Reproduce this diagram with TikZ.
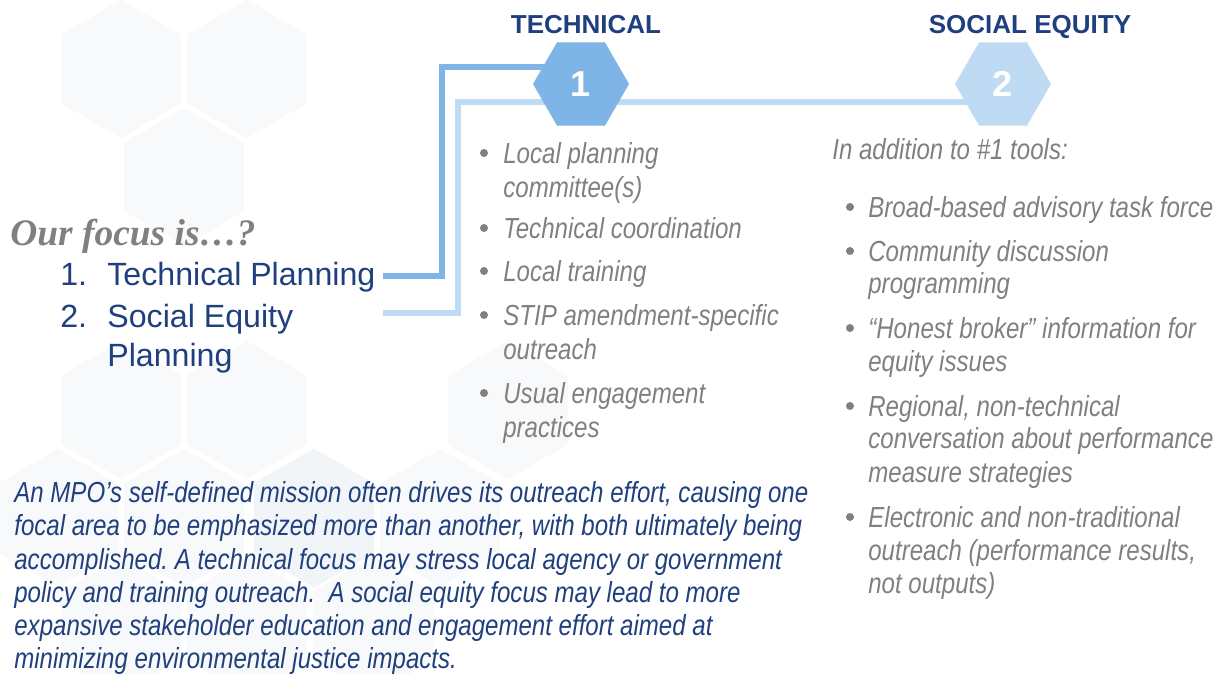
\documentclass[tikz,border=0pt]{standalone}
\usepackage{fontspec}
\setmainfont{Liberation Sans}
\newfontfamily\narrowfont[FakeStretch=0.83]{Liberation Sans}
\newfontfamily\timesfont{Liberation Serif}
\usetikzlibrary{shapes.geometric,backgrounds}
\definecolor{navy}{HTML}{1F3F7F}
\definecolor{txtgray}{HTML}{808080}
\definecolor{hexA}{HTML}{7EB4E6}
\definecolor{hexB}{HTML}{BFDAF3}
\definecolor{bgA}{HTML}{F8F9FB}
\definecolor{bgB}{HTML}{F1F5F8}
\tikzset{
  hexnum/.style={regular polygon, regular polygon sides=6, minimum size=1.92cm, inner sep=0pt,
    text=white, font=\fontsize{20.5}{24}\selectfont\bfseries},
  headtxt/.style={anchor=base, inner sep=0pt, text=navy, font=\fontsize{14.8}{17}\selectfont\bfseries},
  lst/.style={anchor=base west, inner sep=0pt, text=navy, font=\fontsize{18.3}{21}\selectfont},
  itm/.style={anchor=base west, inner sep=0pt, text=txtgray, font=\fontsize{16.5}{19}\narrowfont\itshape\frenchspacing},
  para/.style={itm, text=navy},
  bul/.style={circle, fill=txtgray, inner sep=0pt, minimum size=0.16cm},
  linkA/.style={hexA, line width=3.4pt},
  linkB/.style={hexB, line width=3.4pt},
}
\begin{document}
\begin{tikzpicture}[x=0.02cm, y=-0.02cm]
  \useasboundingbox (0,0) rectangle (1220,673);
  \def\bg#1#2#3{
    \fill[#3] (#1,#2) +(30:69) -- +(90:69) -- +(150:69) -- +(210:69) -- +(270:69) -- +(330:69) -- cycle;
  }

  \node[headtxt] (tech) at (586,33) {TECHNICAL};
  \node[headtxt] (soc) at (1030,33) {SOCIAL EQUITY};
  \node[hexnum, fill=hexA] (one) at (581,84) {1};
  \node[hexnum, fill=hexB] (two) at (1003,84) {2};

  \node[anchor=base west, inner sep=0pt, text=txtgray, font=\fontsize{21.3}{25}\timesfont\bfseries\itshape]
    (focus) at (10,245) {Our focus is…?};
  \node[lst] (n1) at (60,285) {1.};
  \node[lst] (tp) at (107,285) {Technical Planning};
  \node[lst] (n2) at (60,327) {2.};
  \node[lst] (sp) at (107,327) {Social Equity};
  \node[lst] (sp2) at (107,366) {Planning};

  \coordinate (ta) at (383,276);
  \coordinate (ka) at (442,67);
  \coordinate (sa) at (383,313);
  \coordinate (kb) at (458,102);

  \begin{scope}[on background layer]
    \foreach \x/\y in {121/69, 247/69, 184/177, 121/410, 247/410, 508/410, 58/518, 184/518, 440/518, 121/626, 247/626, 373/626}
      \bg{\x}{\y}{bgA}
    \bg{314}{518}{bgB}
    \draw[linkB] (sa) -| (kb) -- (kb -| two);
    \draw[linkA] (ta) -| (ka) -- (ka -| one);
  \end{scope}

  \foreach \y/\t [count=\i] in {163/Local planning, 197/committee(s), 238/Technical coordination,
      281/Local training, 325/STIP amendment-specific, 359/outreach, 403/Usual engagement, 437/practices}
    \node[itm] (m\i) at (503,\y) {\t};
  \foreach \y [count=\i] in {163,238,281,325,403}
    \node[bul] (mb\i) at (484,\y-10) {};

  \node[itm] (add) at (832,159) {In addition to \#1 tools:};
  \foreach \y/\t [count=\i] in {217/Broad-based advisory task force, 261/Community discussion, 293/programming,
      338/“Honest broker” information for, 371/equity issues, 416/{Regional, non-technical},
      448/conversation about performance, 482/measure strategies, 527/Electronic and non-traditional,
      560/{outreach (performance results,}, 593/not outputs)}
    \node[itm] (r\i) at (868,\y) {\t};
  \foreach \y [count=\i] in {217,261,338,416,527}
    \node[bul] (rb\i) at (850,\y-10) {};

  \foreach \y/\t [count=\i] in {502/{An MPO’s self-defined mission often drives its outreach effort, causing one},
      535/{focal area to be emphasized more than another, with both ultimately being},
      569/accomplished. A technical focus may stress local agency or government,
      602/policy and training outreach.\ \ A social equity focus may lead to more,
      635/expansive stakeholder education and engagement effort aimed at,
      668/minimizing environmental justice impacts.}
    \node[para] (p\i) at (14,\y) {\t};
\end{tikzpicture}
\end{document}
